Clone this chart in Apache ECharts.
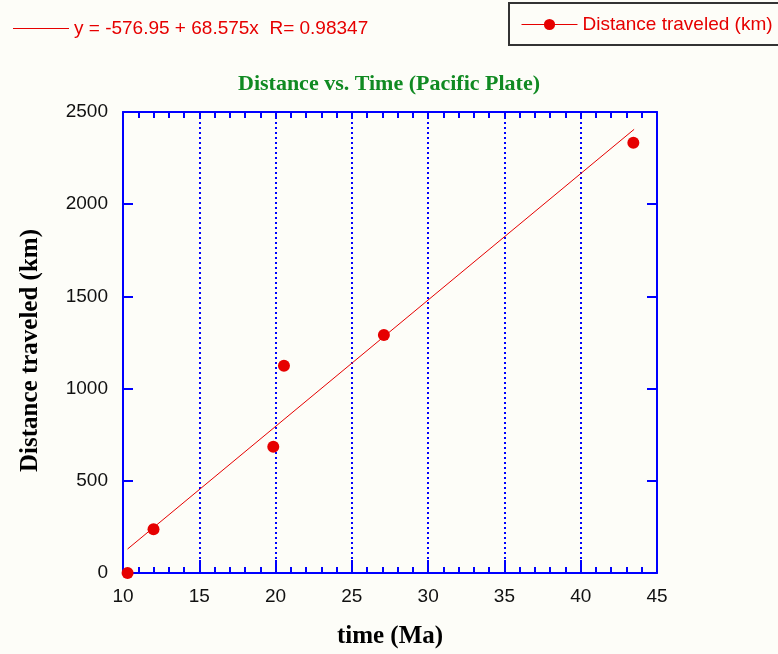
<!DOCTYPE html>
<html>
<head>
<meta charset="utf-8">
<script src="https://cdn.jsdelivr.net/npm/echarts@6/dist/echarts.min.js"></script>
<style>
  html, body { margin: 0; padding: 0; background: #fdfdf8; }
  #chart { width: 778px; height: 654px; }
</style>
</head>
<body>
<div id="chart"></div>
<script>
// measured points: time (Ma) vs distance (km)
const timeMa = [10.3, 12.0, 19.85, 20.55, 27.1, 43.45];
const distanceKm = [0, 237, 685, 1124, 1291, 2333];
// end points of the fitted line as drawn
const fitTime = [10.3, 43.5];
const fitDistance = [130, 2406];
const fitLabel = 'y = -576.95 + 68.575x  R= 0.98347';
const seriesLabel = 'Distance traveled (km)';

const blue = '#0000ff';
const red = '#e60000';

const chart = echarts.init(document.getElementById('chart'));

const option = {
  backgroundColor: '#fdfdf8',
  animation: false,
  title: {
    text: 'Distance vs. Time (Pacific Plate)',
    left: 'center',
    top: 68,
    textStyle: { color: '#108a22', fontFamily: 'Liberation Serif', fontWeight: 'bold', fontSize: 22 }
  },
  legend: [
    {
      data: [fitLabel],
      left: 8,
      top: 14,
      icon: 'rect',
      itemWidth: 56,
      itemHeight: 1,
      itemGap: 0,
      textStyle: { color: red, fontFamily: 'Liberation Sans', fontSize: 19 }
    },
    {
      data: [seriesLabel],
      left: 509,
      top: 3,
      padding: [12, 12, 11, 12],
      itemWidth: 56,
      itemHeight: 14,
      borderColor: '#333',
      borderWidth: 2,
      lineStyle: { color: red, width: 1, opacity: 1, type: 'solid' },
      textStyle: { color: red, fontFamily: 'Liberation Sans', fontSize: 19 }
    }
  ],
  grid: { left: 123, right: 121, top: 112, bottom: 81 },
  xAxis: [
    {
      type: 'value',
      min: 10, max: 45, interval: 5,
      name: 'time (Ma)',
      nameLocation: 'middle',
      nameGap: 51,
      nameTextStyle: { color: '#000', fontFamily: 'Liberation Serif', fontWeight: 'bold', fontSize: 25 },
      axisLine: { onZero: false, lineStyle: { color: blue, width: 2 } },
      axisTick: { show: true, inside: true, length: 13, lineStyle: { color: blue, width: 2 } },
      minorTick: { show: true, splitNumber: 5, length: 6, lineStyle: { color: blue, width: 2 } },
      splitLine: { show: true, lineStyle: { color: blue, width: 2, type: [2, 3] } },
      axisLabel: { color: '#111', fontFamily: 'Liberation Sans', fontSize: 19, margin: 14 }
    },
    {
      type: 'value',
      position: 'top',
      min: 10, max: 45, interval: 5,
      axisLine: { show: true, onZero: false, lineStyle: { color: blue, width: 2 } },
      axisTick: { show: true, inside: true, length: 6, lineStyle: { color: blue, width: 2 } },
      minorTick: { show: true, splitNumber: 5, length: 6, lineStyle: { color: blue, width: 2 } },
      splitLine: { show: false },
      axisLabel: { show: false }
    }
  ],
  yAxis: [
    {
      type: 'value',
      min: 0, max: 2500, interval: 500,
      name: 'Distance traveled (km)',
      nameLocation: 'middle',
      nameGap: 80,
      nameTextStyle: { color: '#000', fontFamily: 'Liberation Serif', fontWeight: 'bold', fontSize: 25, padding: [0, 16, 0, 0] },
      axisLine: { show: true, onZero: false, lineStyle: { color: blue, width: 2 } },
      axisTick: { show: true, inside: true, length: 10, lineStyle: { color: blue, width: 2 } },
      splitLine: { show: false },
      axisLabel: { color: '#111', fontFamily: 'Liberation Sans', fontSize: 19, margin: 15, formatter: (v) => String(v) }
    },
    {
      type: 'value',
      position: 'right',
      min: 0, max: 2500, interval: 500,
      axisLine: { show: true, onZero: false, lineStyle: { color: blue, width: 2 } },
      axisTick: { show: true, inside: true, length: 10, lineStyle: { color: blue, width: 2 } },
      splitLine: { show: false },
      axisLabel: { show: false }
    }
  ],
  series: [
    {
      name: fitLabel,
      type: 'line',
      data: fitTime.map((t, i) => [t, fitDistance[i]]),
      symbol: 'none',
      color: red,
      lineStyle: { color: red, width: 1 },
      z: 2
    },
    {
      name: seriesLabel,
      type: 'line',
      data: timeMa.map((t, i) => [t, distanceKm[i]]),
      symbol: 'circle',
      symbolSize: 12,
      showSymbol: true,
      color: red,
      itemStyle: { color: red },
      lineStyle: { opacity: 0 },
      z: 3
    }
  ]
};

option && chart.setOption(option);
</script>
</body>
</html>
